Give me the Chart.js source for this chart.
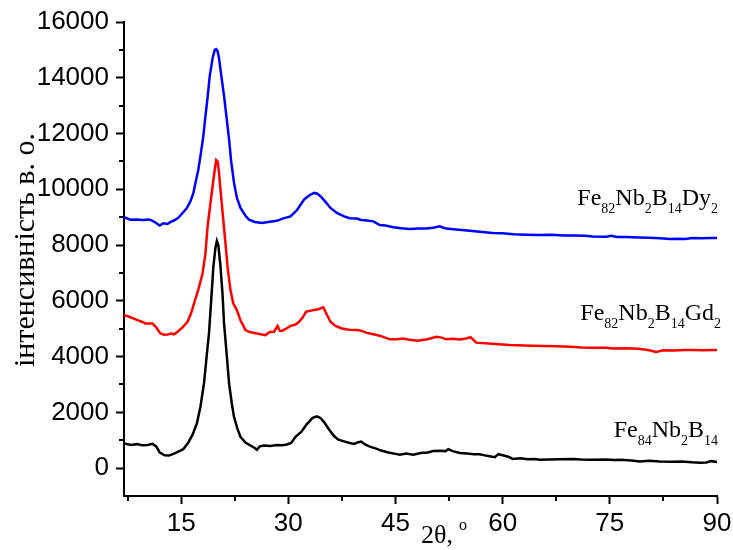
<!DOCTYPE html>
<html>
<head>
<meta charset="utf-8">
<script src="https://cdn.jsdelivr.net/npm/chart.js@4/dist/chart.umd.min.js"></script>
<style>
	body { margin: 0; background: #fff; }
	canvas { display: block; }
</style>
</head>
<body>
<canvas id="chart" width="733" height="550"></canvas>
<script>
// 2θ, degrees
const angleFe84 = [7, 8, 8.8, 9.5, 10.3, 11.0, 11.5, 12.0, 12.7, 13.3, 14.0, 14.6, 15.3, 16.0, 16.6, 17.2, 17.7, 18.2, 18.6, 18.9, 19.2, 19.5, 19.8, 20.0, 20.2, 20.5, 20.8, 21.0, 21.4, 21.7, 22.1, 22.4, 22.9, 23.3, 24.0, 24.7, 25.3, 25.6, 26.0, 26.6, 27.5, 28.4, 29.2, 29.8, 30.4, 31.0, 31.8, 32.6, 33.4, 34.0, 34.5, 35.0, 35.6, 36.4, 37.0, 37.8, 38.6, 39.2, 39.8, 40.2, 40.8, 41.5, 42.3, 43.0, 44.0, 45.0, 45.6, 46.5, 47.5, 48.5, 49.5, 50.3, 51.2, 52.0, 52.4, 53.0, 54.0, 55.0, 56.0, 56.8, 57.8, 58.9, 59.4, 60.0, 60.8, 61.4, 62.5, 63.5, 64.5, 65.2, 66.5, 68.0, 69.8, 71.0, 72.5, 74.5, 75.5, 76.5, 78.0, 79.2, 80.5, 82.0, 83.8, 85.0, 86.5, 87.6, 88.5, 89.2, 90]
const intensityFe84 = [880, 830, 860, 820, 830, 870, 780, 560, 460, 450, 520, 590, 680, 920, 1200, 1600, 2200, 3050, 4100, 4850, 6000, 7200, 7900, 8150, 8000, 7250, 6200, 5200, 4000, 3050, 2300, 1830, 1400, 1120, 920, 810, 720, 660, 780, 810, 790, 830, 820, 850, 900, 1120, 1300, 1580, 1800, 1860, 1800, 1650, 1420, 1150, 1020, 960, 900, 870, 930, 950, 840, 760, 700, 630, 560, 510, 480, 520, 480, 540, 560, 610, 620, 610, 680, 610, 540, 520, 500, 500, 440, 390, 500, 460, 410, 330, 350, 320, 330, 300, 310, 320, 330, 310, 300, 310, 290, 300, 270, 240, 260, 240, 230, 240, 210, 195, 200, 250, 220]

const angleGd = [7, 7.8, 8.9, 9.5, 10.0, 11.0, 11.5, 12.1, 12.6, 13.1, 13.6, 14.0, 14.5, 15.2, 15.9, 16.4, 16.8, 17.4, 18.0, 18.4, 18.7, 19.1, 19.4, 19.7, 19.9, 20.1, 20.3, 20.5, 20.9, 21.2, 21.5, 21.9, 22.3, 22.8, 23.3, 24.0, 24.6, 25.6, 26.3, 26.8, 27.4, 28.0, 28.5, 28.8, 29.1, 29.7, 30.3, 31.0, 31.5, 32.0, 32.5, 33.0, 33.6, 34.2, 34.9, 35.4, 35.9, 36.6, 37.5, 38.5, 39.6, 40.2, 41.0, 41.9, 42.8, 44.2, 45.2, 46.1, 47.0, 48.0, 49.5, 50.7, 51.5, 52.1, 53.0, 54.0, 54.9, 55.5, 56.3, 58.0, 59.5, 61.0, 63.0, 65.6, 67.5, 69.5, 71.0, 72.6, 74.5, 75.5, 77.3, 79.0, 80.5, 81.5, 82.5, 84.0, 85.5, 86.6, 88.0, 90]
const intensityGd = [5490, 5420, 5310, 5250, 5190, 5190, 5050, 4830, 4780, 4795, 4830, 4800, 4890, 5050, 5250, 5560, 5910, 6400, 6990, 7700, 8670, 9500, 10110, 10700, 11050, 11000, 10600, 9990, 8900, 8070, 7200, 6390, 5900, 5670, 5300, 4950, 4880, 4830, 4790, 4770, 4880, 4890, 5100, 4930, 4920, 5000, 5100, 5150, 5250, 5400, 5610, 5640, 5670, 5700, 5770, 5500, 5250, 5100, 5010, 4960, 4950, 4930, 4850, 4800, 4750, 4620, 4620, 4650, 4600, 4570, 4620, 4710, 4680, 4620, 4640, 4610, 4650, 4700, 4500, 4470, 4440, 4415, 4400, 4380, 4370, 4350, 4330, 4320, 4320, 4290, 4300, 4280, 4230, 4170, 4230, 4220, 4240, 4235, 4230, 4235]

const angleDy = [7, 7.9, 8.8, 9.6, 10.5, 11.0, 11.4, 12.0, 12.5, 13.1, 13.6, 14.0, 14.6, 15.2, 15.8, 16.3, 16.7, 17.0, 17.4, 17.7, 18.1, 18.4, 18.7, 19.0, 19.4, 19.7, 19.9, 20.1, 20.3, 20.5, 21.0, 21.3, 21.7, 22.0, 22.4, 22.8, 23.3, 24.0, 24.5, 25.3, 26.3, 27.2, 28.4, 29.2, 30.3, 31.2, 32.2, 32.9, 33.6, 34.0, 34.5, 35.2, 35.9, 36.8, 37.8, 38.6, 39.6, 40.2, 41.0, 41.9, 42.8, 43.6, 44.7, 45.8, 47.0, 48.2, 49.3, 50.3, 51.2, 51.7, 52.1, 53.5, 55.4, 56.8, 58.6, 60.0, 61.5, 63.3, 65.0, 66.8, 68.5, 70.3, 71.5, 72.6, 74.5, 75.2, 76.0, 77.3, 79.0, 80.5, 82.0, 83.4, 84.5, 85.5, 86.6, 88.0, 89.0, 90]
const intensityDy = [9000, 8910, 8920, 8900, 8920, 8870, 8810, 8700, 8780, 8760, 8840, 8880, 8980, 9150, 9330, 9570, 9850, 10230, 10700, 11190, 11900, 12620, 13300, 14060, 14700, 15000, 15030, 14960, 14700, 14300, 13350, 12700, 11800, 11000, 10230, 9700, 9330, 9050, 8910, 8830, 8790, 8830, 8870, 8950, 9030, 9250, 9630, 9780, 9870, 9850, 9750, 9550, 9330, 9150, 9030, 8960, 8950, 8900, 8880, 8850, 8720, 8700, 8640, 8600, 8575, 8590, 8590, 8620, 8670, 8620, 8590, 8560, 8515, 8480, 8430, 8420, 8390, 8370, 8360, 8370, 8340, 8345, 8330, 8310, 8300, 8330, 8290, 8285, 8270, 8260, 8240, 8215, 8230, 8220, 8250, 8240, 8250, 8250]

const xTicks = [15, 30, 45, 60, 75, 90]
const xMinorTicks = [7.5, 22.5, 37.5, 52.5, 67.5, 82.5]
const yTicks = [0, 2000, 4000, 6000, 8000, 10000, 12000, 14000, 16000]
const yMinorTicks = [1000, 3000, 5000, 7000, 9000, 11000, 13000, 15000]

// label parts: [text, isSubscript]
const labelDy = [["Fe", 0], ["82", 1], ["Nb", 0], ["2", 1], ["B", 0], ["14", 1], ["Dy", 0], ["2", 1]]
const labelGd = [["Fe", 0], ["82", 1], ["Nb", 0], ["2", 1], ["B", 0], ["14", 1], ["Gd", 0], ["2", 1]]
const labelFe84 = [["Fe", 0], ["84", 1], ["Nb", 0], ["2", 1], ["B", 0], ["14", 1]]
const yTitle = "інтенсивність в. о."
const xTitle = "2θ,"

const serif = "'Liberation Serif', 'Times New Roman', serif"
const sans = "'Liberation Sans', Arial, sans-serif"

function points(xs, ys) {
	return xs.map((x, i) => ({ x: x, y: ys[i] }))
}

function drawFormula(ctx, parts, right, baseline) {
	const main = "24px " + serif
	const sub = "14px " + serif
	let width = 0
	parts.forEach(p => {
		ctx.font = p[1] ? sub : main
		width += ctx.measureText(p[0]).width
	})
	let x = right - width
	ctx.textAlign = "left"
	ctx.textBaseline = "alphabetic"
	parts.forEach(p => {
		ctx.font = p[1] ? sub : main
		ctx.fillText(p[0], x, p[1] ? baseline + 8 : baseline)
		x += ctx.measureText(p[0]).width
	})
}

const extras = {
	id: "extras",
	afterDraw(chart) {
		const ctx = chart.ctx
		const xs = chart.scales.x
		const ys = chart.scales.y
		const area = chart.chartArea
		ctx.save()
		ctx.strokeStyle = "#000"
		ctx.fillStyle = "#000"
		ctx.lineWidth = 2
		ctx.beginPath()
		xMinorTicks.forEach(v => {
			const px = Math.round(xs.getPixelForValue(v))
			ctx.moveTo(px, area.bottom)
			ctx.lineTo(px, area.bottom + 5)
		})
		yMinorTicks.forEach(v => {
			const py = Math.round(ys.getPixelForValue(v))
			ctx.moveTo(area.left, py)
			ctx.lineTo(area.left - 5, py)
		})
		ctx.stroke()

		const right = xs.getPixelForValue(90) + 1
		drawFormula(ctx, labelDy, right, ys.getPixelForValue(9450))
		drawFormula(ctx, labelGd, right + 3, ys.getPixelForValue(5310))
		drawFormula(ctx, labelFe84, right, ys.getPixelForValue(1115))

		// x title
		ctx.font = "26px " + serif
		ctx.textAlign = "left"
		ctx.textBaseline = "alphabetic"
		ctx.fillText(xTitle, 421, 543)
		const w = ctx.measureText(xTitle).width
		ctx.font = "16px " + serif
		ctx.fillText("o", 421 + w + 6, 530)

		// y title
		ctx.translate(34, 250)
		ctx.rotate(-Math.PI / 2)
		ctx.font = "30px " + serif
		ctx.textAlign = "center"
		ctx.fillText(yTitle, 0, 0)
		ctx.restore()
	},
}

window.onload = () => {
	const canvas = document.getElementById("chart")
	const lineStyle = { pointRadius: 0, borderWidth: 2.5, tension: 0, fill: false }
	new Chart(canvas, {
		type: "line",
		data: {
			datasets: [
				Object.assign({ data: points(angleFe84, intensityFe84), borderColor: "#000000" }, lineStyle),
				Object.assign({ data: points(angleGd, intensityGd), borderColor: "#ff0000" }, lineStyle),
				Object.assign({ data: points(angleDy, intensityDy), borderColor: "#0000ff" }, lineStyle),
			],
		},
		options: {
			responsive: false,
			animation: false,
			devicePixelRatio: 1,
			layout: { padding: { top: 22, right: 16, left: 0, bottom: 0 } },
			plugins: { legend: { display: false }, tooltip: { enabled: false } },
			scales: {
				x: {
					type: "linear",
					min: 7,
					max: 90,
					afterBuildTicks: s => { s.ticks = xTicks.map(v => ({ value: v })) },
					afterFit: s => { s.height = 54; s.paddingLeft = 0; s.paddingRight = 0 },
					border: { color: "#000", width: 2 },
					grid: { drawOnChartArea: false, tickLength: 8, tickWidth: 2, color: "#000" },
					ticks: { font: { family: sans, size: 26 }, color: "#000", padding: 4, maxRotation: 0, autoSkip: false, callback: v => String(v) },
				},
				y: {
					min: -1000,
					max: 16000,
					afterBuildTicks: s => { s.ticks = yTicks.map(v => ({ value: v })) },
					afterFit: s => { s.width = 124; s.paddingTop = 0; s.paddingBottom = 0 },
					border: { color: "#000", width: 2 },
					grid: { drawOnChartArea: false, tickLength: 8, tickWidth: 2, color: "#000" },
					ticks: { font: { family: sans, size: 26 }, color: "#000", padding: 7, callback: v => String(v) },
				},
			},
		},
		plugins: [extras],
	})
}
</script>
</body>
</html>
